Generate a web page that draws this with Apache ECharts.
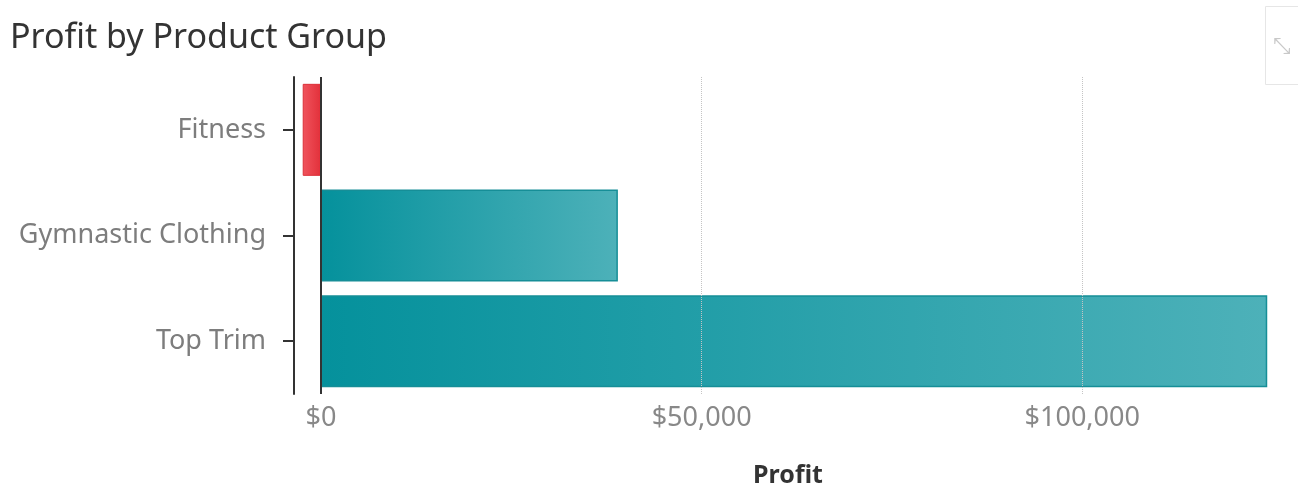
<!DOCTYPE html>
<html>
<head>
<meta charset="utf-8">
<title>Profit by Product Group</title>
<script src="https://cdn.jsdelivr.net/npm/echarts@6/dist/echarts.min.js"></script>
<style>
    html, body { margin: 0; padding: 0; background: #fff; }
    #main { width: 1298px; height: 491px; }
</style>
</head>
<body>
<div id="main"></div>
<script>
// data
var categories = ['Fitness', 'Gymnastic Clothing', 'Top Trim'];
var profit = [-2400, 39000, 124300];
var tickValues = [0, 50000, 100000];
var gridValues = [50000, 100000];

function money(v) {
    return '$' + String(v).replace(/\B(?=(\d{3})+(?!\d))/g, ',');
}

// teal bars go dark at zero to light at the end, red ones the other way
function barStyle(v) {
    if (v < 0) {
        return {
            color: new echarts.graphic.LinearGradient(0, 0, 1, 0, [
                { offset: 0, color: '#F0545D' },
                { offset: 1, color: '#E2303A' }
            ]),
            borderColor: '#DC2F38',
            borderWidth: 1
        };
    }
    return {
        color: new echarts.graphic.LinearGradient(0, 0, 1, 0, [
            { offset: 0, color: '#05919C' },
            { offset: 1, color: '#4DB1B9' }
        ]),
        borderColor: '#168E97',
        borderWidth: 1.5
    };
}

var barData = profit.map(function (v) {
    return { value: v, itemStyle: barStyle(v) };
});

var gridLines = gridValues.map(function (v) {
    return { xAxis: v, lineStyle: { color: '#c4c4c4', type: 'dotted', width: 1 } };
});
gridLines.push({ xAxis: 0, lineStyle: { color: '#333', type: 'solid', width: 2 } });

var fontFamily = '"Noto Sans", "Open Sans", sans-serif';

var option = {
    animation: false,
    textStyle: { fontFamily: fontFamily },
    title: {
        text: 'Profit by Product Group',
        left: 5,
        top: 16,
        textStyle: { fontFamily: fontFamily, fontSize: 34, fontWeight: 'normal', color: '#333' }
    },
    grid: { left: 294, right: 30, top: 77, bottom: 97, outerBoundsMode: 'none' },
    xAxis: {
        type: 'value',
        min: -3545,
        max: 124400,
        name: 'Profit',
        nameLocation: 'middle',
        nameGap: 69,
        nameTextStyle: { fontSize: 25, fontWeight: 'bold', color: '#333', padding: [0, 0, 0, 14] },
        axisLine: { show: false },
        axisTick: { show: false },
        splitLine: { show: false },
        axisLabel: {
            customValues: tickValues,
            formatter: money,
            fontSize: 27,
            color: '#888',
            margin: 11
        }
    },
    yAxis: {
        type: 'category',
        inverse: true,
        data: categories,
        axisLine: { show: true, onZero: false, lineStyle: { color: '#333', width: 2 } },
        axisTick: { show: true, alignWithLabel: true, length: 11, lineStyle: { color: '#333', width: 2 } },
        axisLabel: { fontSize: 27, color: '#7d7d7d', margin: 28 }
    },
    series: [{
        name: 'Profit',
        type: 'bar',
        barWidth: 92,
        data: barData,
        markLine: {
            silent: true,
            symbol: 'none',
            label: { show: false },
            data: gridLines
        }
    }],
    graphic: [
        {
            type: 'rect',
            left: 1265, top: 6,
            shape: { width: 40, height: 78 },
            style: { fill: '#fff', stroke: '#e6e6e6', lineWidth: 1 }
        },
        {
            type: 'text',
            left: 1273, top: 36,
            style: { text: '⤡', fontSize: 22, fill: '#c8c8c8' }
        }
    ]
};

var myChart = echarts.init(document.getElementById('main'));
myChart.setOption(option);
</script>
</body>
</html>
